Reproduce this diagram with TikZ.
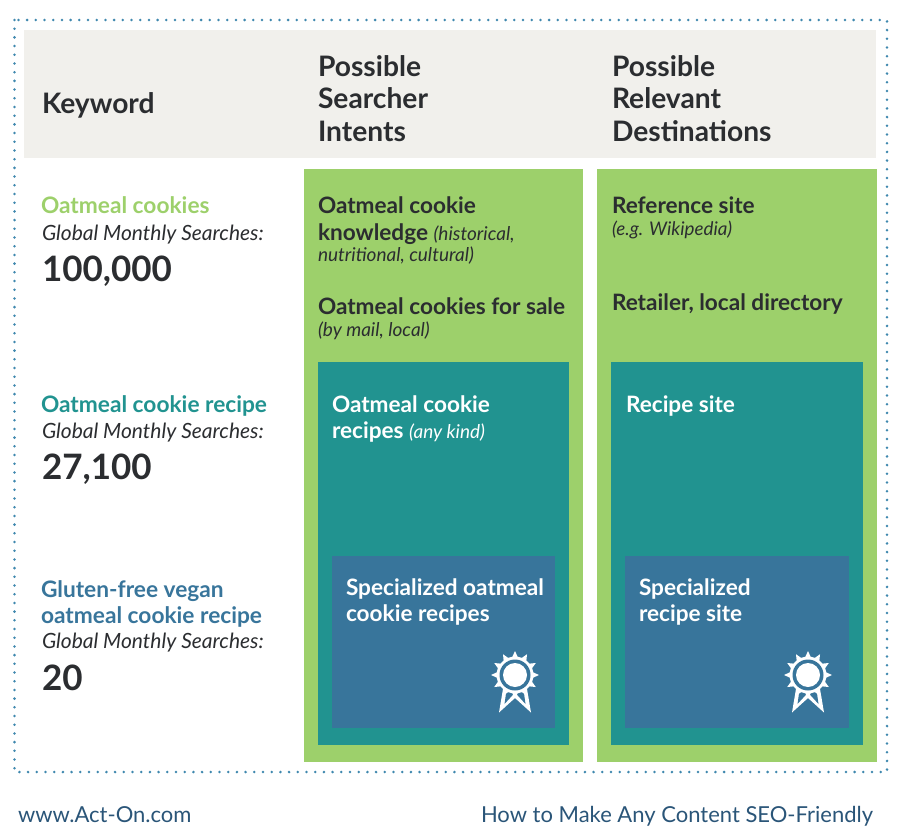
\documentclass[tikz,border=0pt]{standalone}
\usepackage{fontspec}
\setmainfont{Lato}
\definecolor{headgray}{HTML}{F1F0EC}
\definecolor{leafgreen}{HTML}{9DD06B}
\definecolor{seateal}{HTML}{219390}
\definecolor{deepblue}{HTML}{38759B}
\definecolor{inkdark}{HTML}{2B2D30}
\definecolor{footblue}{HTML}{2A5578}
\definecolor{dotblue}{HTML}{3F88AE}
\tikzset{
  lbl/.style={anchor=base west,inner sep=0pt,outer sep=0pt,text=inkdark},
  head/.style={lbl,font=\fontsize{28.2}{28}\selectfont\bfseries},
  key/.style={lbl,font=\fontsize{22.7}{22}\selectfont\bfseries},
  sub/.style={lbl,font=\fontsize{21}{21}\selectfont\itshape},
  num/.style={lbl,font=\fontsize{35}{35}\selectfont\bfseries},
  item/.style={lbl,font=\fontsize{22.6}{22}\selectfont\bfseries},
  foot/.style={lbl,text=footblue,font=\fontsize{22}{22}\selectfont}
}
\newcommand{\notesize}{\fontsize{19}{19}\selectfont\itshape\mdseries}
\begin{document}
\begin{tikzpicture}[x=1pt,y=-1pt]
    \useasboundingbox (0,0) rectangle (900,840);
    % Border
    \draw[dotblue,line width=2.8pt,line cap=round,dash pattern=on 0pt off 8.7pt] (14.5,20) rectangle (887,772);

    % Header band
    \fill[headgray] (24,30) rectangle (876,158);
    \node[head] (hkey) at (42,114) {Keyword};
    \node[head] (hint1) at (318,77) {Possible};
    \node[head] (hint2) at (318,109) {Searcher};
    \node[head] (hint3) at (318,142) {Intents};
    \node[head] (hdest1) at (612,77) {Possible};
    \node[head] (hdest2) at (612,109) {Relevant};
    \node[head] (hdest3) at (612,142) {Destinations};

    % Columns
    \foreach \xa/\xb in {304/583,597/877}{
      \fill[leafgreen] (\xa,169) rectangle (\xb,762);
      \fill[seateal] (\xa+14,362) rectangle (\xb-14,745);
      \fill[deepblue] (\xa+28,556) rectangle (\xb-28,728);
    }

    % Keywords
    \node[key,text=leafgreen] (kw1) at (41,214) {Oatmeal cookies};
    \node[sub] (gm1) at (42,240) {Global Monthly Searches:};
    \node[num] (n1) at (42,281) {100,000};
    \node[key,text=seateal] (kw2) at (41,412) {Oatmeal cookie recipe};
    \node[sub] (gm2) at (42,438) {Global Monthly Searches:};
    \node[num] (n2) at (42,479) {27,100};
    \node[key,text=deepblue] (kw3a) at (41,597) {Gluten-free vegan};
    \node[key,text=deepblue] (kw3b) at (41,623) {oatmeal cookie recipe};
    \node[sub] (gm3) at (42,648) {Global Monthly Searches:};
    \node[num] (n3) at (42,690) {20};

    % Searcher intents
    \node[item] (in1a) at (318,214) {Oatmeal cookie};
    \node[item] (in1b) at (318,240) {knowledge \notesize(historical,};
    \node[lbl,font=\notesize] (in1c) at (318,261) {nutritional, cultural)};
    \node[item] (in2a) at (318,314) {Oatmeal cookies for sale};
    \node[lbl,font=\notesize] (in2b) at (318,336) {(by mail, local)};
    \node[item,text=white] (in3a) at (332,412) {Oatmeal cookie};
    \node[item,text=white] (in3b) at (332,438) {recipes \notesize(any kind)};
    \node[item,text=white] (in4a) at (346,595) {Specialized oatmeal};
    \node[item,text=white] (in4b) at (346,621) {cookie recipes};

    % Destinations
    \node[item] (de1a) at (612,214) {Reference site};
    \node[lbl,font=\fontsize{18.8}{18}\selectfont\itshape] (de1b) at (612,235) {(e.g. Wikipedia)};
    \node[item] (de2) at (612,310) {Retailer, local directory};
    \node[item,text=white] (de3) at (626,412) {Recipe site};
    \node[item,text=white] (de4a) at (639,595) {Specialized};
    \node[item,text=white] (de4b) at (639,621) {recipe site};

    % Badges
    \foreach \bx in {515,808}{
      \begin{scope}[shift={(\bx,675)}]
        \fill[white] (-11,8) -- (-16,37.5) -- (0,23) -- (16,37.5) -- (11,8) -- cycle;
        \fill[deepblue] (-7.5,8) -- (-10.5,29) -- (0,17.5) -- (10.5,29) -- (7.5,8) -- cycle;
        \fill[white] (90:24)
          \foreach \a in {90,120,...,420}{ -- (\a+8:18.5) -- (\a+22:18.5) -- (\a+30:24) } -- cycle;
        \fill[deepblue] (0,0) circle (15.5);
        \fill[white] (0,0) circle (12);
      \end{scope}
    }

    % Footer
    \node[foot] (fl) at (18,822) {www.Act-On.com};
    \node[foot] (fr) at (481,822) {How to Make Any Content SEO-Friendly};
\end{tikzpicture}
\end{document}
